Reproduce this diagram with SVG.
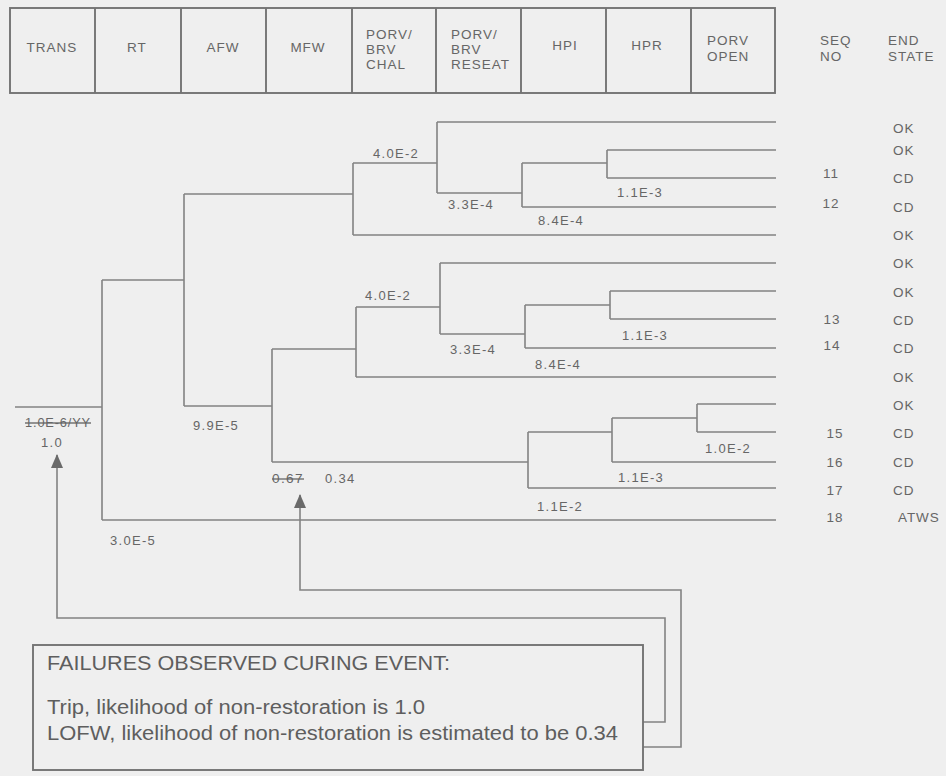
<svg xmlns="http://www.w3.org/2000/svg" width="946" height="776" viewBox="0 0 946 776">
<style>
.bg{fill:#efefef}
.ln{fill:none;stroke:#838383;stroke-width:1.6}
.bx{fill:none;stroke:#737373;stroke-width:1.9}
.t{font-family:"Liberation Sans",Arial,Helvetica,sans-serif;fill:#666666;font-size:13.5px;letter-spacing:0.9px}
.h{font-size:13.5px;letter-spacing:1px}
.m{text-anchor:middle}
.p{font-size:13px;letter-spacing:1.3px}
.n{font-size:20px;letter-spacing:0;fill:#5e5e5e}
.s{text-decoration:line-through}
</style>
<defs>
<marker id="ah" viewBox="0 0 14 12" refX="13" refY="6" markerWidth="14" markerHeight="12" markerUnits="userSpaceOnUse" orient="auto">
<path d="M0,0 L14,6 L0,12 Z" fill="#6a6a6a"/>
</marker>
</defs>
<rect class="bg" x="0" y="0" width="946" height="776"/>

<g id="header">
<rect class="bx" x="10" y="8" width="765" height="85"/>
<g id="h-trans"><text class="t h m" x="52" y="52">TRANS</text></g>
<g id="h-rt"><line class="bx" x1="95" y1="8" x2="95" y2="93"/><text class="t h m" x="137" y="52">RT</text></g>
<g id="h-afw"><line class="bx" x1="181" y1="8" x2="181" y2="93"/><text class="t h m" x="223" y="52">AFW</text></g>
<g id="h-mfw"><line class="bx" x1="266" y1="8" x2="266" y2="93"/><text class="t h m" x="308" y="52">MFW</text></g>
<g id="h-chal"><line class="bx" x1="352" y1="8" x2="352" y2="93"/>
<text class="t h" x="366" y="39">PORV/</text><text class="t h" x="366" y="54">BRV</text><text class="t h" x="366" y="69">CHAL</text></g>
<g id="h-reseat"><line class="bx" x1="436" y1="8" x2="436" y2="93"/>
<text class="t h" x="451" y="39">PORV/</text><text class="t h" x="451" y="54">BRV</text><text class="t h" x="451" y="69">RESEAT</text></g>
<g id="h-hpi"><line class="bx" x1="521" y1="8" x2="521" y2="93"/><text class="t h m" x="565" y="50">HPI</text></g>
<g id="h-hpr"><line class="bx" x1="606" y1="8" x2="606" y2="93"/><text class="t h m" x="647" y="50">HPR</text></g>
<g id="h-open"><line class="bx" x1="691" y1="8" x2="691" y2="93"/>
<text class="t h" x="707" y="45">PORV</text><text class="t h" x="707" y="61">OPEN</text></g>
<g id="h-seq"><text class="t h" x="820" y="45">SEQ</text><text class="t h" x="820" y="61">NO</text></g>
<g id="h-end"><text class="t h" x="888" y="45">END</text><text class="t h" x="888" y="61">STATE</text></g>
</g>

<g id="connectors">
<path class="ln" d="M15,407 H102"/>
<path class="ln" d="M102,280 V520 M102,280 H184 M102,520 H776"/>
<path class="ln" d="M184,194 V406 M184,194 H353 M184,406 H272"/>
<path class="ln" d="M272,349 V462 M272,349 H356 M272,462 H528"/>
<path class="ln" d="M353,163 V235 M353,163 H437 M353,235 H776"/>
<path class="ln" d="M437,122 V193 M437,122 H776 M437,193 H522"/>
<path class="ln" d="M522,163 V207 M522,163 H607 M522,207 H776"/>
<path class="ln" d="M607,150 V178 M607,150 H776 M607,178 H776"/>
<path class="ln" d="M356,307 V377 M356,307 H440 M356,377 H776"/>
<path class="ln" d="M440,263 V334 M440,263 H776 M440,334 H525"/>
<path class="ln" d="M525,305 V348 M525,305 H610 M525,348 H776"/>
<path class="ln" d="M610,291 V319 M610,291 H776 M610,319 H776"/>
<path class="ln" d="M528,432 V488 M528,432 H612 M528,488 H776"/>
<path class="ln" d="M612,418 V462 M612,418 H697 M612,462 H776"/>
<path class="ln" d="M697,404 V432 M697,404 H776 M697,432 H776"/>
<path class="ln" d="M643,722 H665 V618 H57 V455" marker-end="url(#ah)"/>
<path class="ln" d="M643,747 H681 V590 H300 V495" marker-end="url(#ah)"/>
</g>

<g id="branch-labels">
<text class="t s" x="25" y="427" font-size="12" textLength="66" lengthAdjust="spacingAndGlyphs">1.0E-6/YY</text>
<text class="t p m" x="52" y="447">1.0</text>
<text class="t p" x="193" y="430">9.9E-5</text>
<text class="t p" x="110" y="545">3.0E-5</text>
<text class="t p s" x="272" y="483" textLength="32" lengthAdjust="spacingAndGlyphs">0.67</text>
<text class="t p" x="325" y="483">0.34</text>
<text class="t p" x="373" y="158">4.0E-2</text>
<text class="t p" x="448" y="209">3.3E-4</text>
<text class="t p" x="617" y="197">1.1E-3</text>
<text class="t p" x="538" y="225">8.4E-4</text>
<text class="t p" x="365" y="300">4.0E-2</text>
<text class="t p" x="450" y="354">3.3E-4</text>
<text class="t p" x="622" y="340">1.1E-3</text>
<text class="t p" x="535" y="369">8.4E-4</text>
<text class="t p" x="705" y="453">1.0E-2</text>
<text class="t p" x="618" y="482">1.1E-3</text>
<text class="t p" x="537" y="511">1.1E-2</text>
</g>

<g id="seq-numbers">
<text class="t m" x="831" y="178">11</text>
<text class="t m" x="831" y="208">12</text>
<text class="t m" x="832" y="324">13</text>
<text class="t m" x="832" y="350">14</text>
<text class="t m" x="835" y="438">15</text>
<text class="t m" x="835" y="467">16</text>
<text class="t m" x="835" y="495">17</text>
<text class="t m" x="835" y="522">18</text>
</g>

<g id="end-states">
<text class="t" x="893" y="133">OK</text>
<text class="t" x="893" y="155">OK</text>
<text class="t" x="893" y="183">CD</text>
<text class="t" x="893" y="212">CD</text>
<text class="t" x="893" y="240">OK</text>
<text class="t" x="893" y="268">OK</text>
<text class="t" x="893" y="297">OK</text>
<text class="t" x="893" y="325">CD</text>
<text class="t" x="893" y="353">CD</text>
<text class="t" x="893" y="382">OK</text>
<text class="t" x="893" y="410">OK</text>
<text class="t" x="893" y="438">CD</text>
<text class="t" x="893" y="467">CD</text>
<text class="t" x="893" y="495">CD</text>
<text class="t" x="898" y="522">ATWS</text>
</g>

<g id="note">
<rect class="bx" x="33" y="645" width="610" height="125"/>
<text class="t n" x="47" y="670" textLength="403" lengthAdjust="spacingAndGlyphs">FAILURES OBSERVED CURING EVENT:</text>
<text class="t n" x="47" y="714" textLength="378" lengthAdjust="spacingAndGlyphs">Trip, likelihood of non-restoration is 1.0</text>
<text class="t n" x="47" y="740" textLength="571" lengthAdjust="spacingAndGlyphs">LOFW, likelihood of non-restoration is estimated to be 0.34</text>
</g>
</svg>
